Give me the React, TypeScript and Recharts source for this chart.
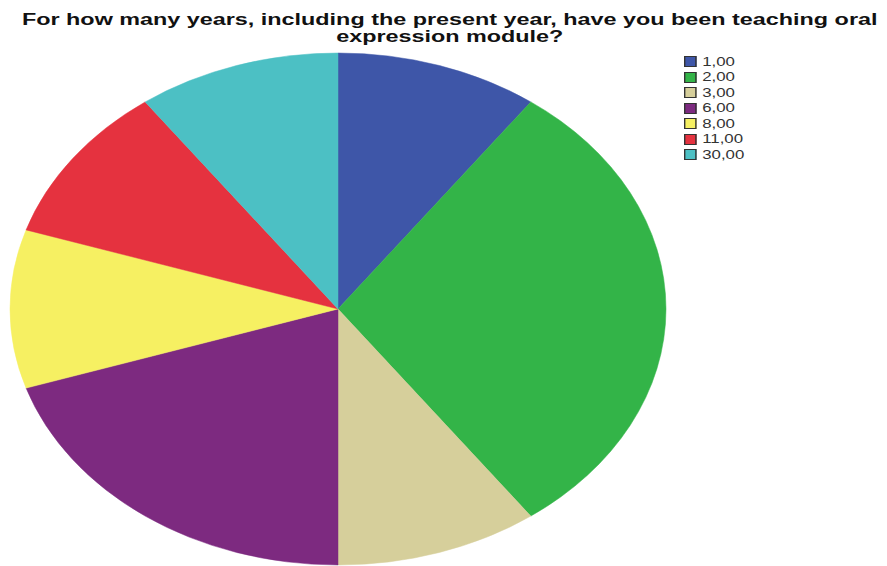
import { PieChart, Pie, Cell, Legend } from "recharts";
import type { CSSProperties } from "react";

const categories = ["1,00", "2,00", "3,00", "6,00", "8,00", "11,00", "30,00"];
const counts = [1, 3, 1, 2, 1, 1, 1];
const COLORS = ["#3e56a8", "#33b448", "#d6cf9b", "#7d2a80", "#f6f062", "#e5323f", "#4cc0c4"];
const TITLE = [
  "For how many years, including the present year, have you been teaching oral",
  "expression module?",
];

const data = categories.map((name, i) => ({ name, value: counts[i] }));

const RX = 328;
const RY = 256;

// recharts only does circles, so the sector path is drawn as an ellipse
function EllipseSector(props: any) {
  const { cx, cy, startAngle, endAngle, fill } = props;
  const rad = Math.PI / 180;
  const pt = (a: number) => [cx + RX * Math.cos(a * rad), cy - RY * Math.sin(a * rad)];
  const [x1, y1] = pt(startAngle);
  const [x2, y2] = pt(endAngle);
  const span = Math.abs(endAngle - startAngle);
  const large = span > 180 ? 1 : 0;
  const sweep = endAngle < startAngle ? 1 : 0;
  const d = `M${cx},${cy} L${x1},${y1} A${RX},${RY} 0 ${large} ${sweep} ${x2},${y2} Z`;
  return <path d={d} fill={fill} stroke={fill} strokeWidth={0.5} />;
}

function LegendBox() {
  return (
    <div style={legendStyle}>
      {categories.map((c, i) => (
        <div key={c} style={{ display: "flex", alignItems: "center", height: 15.5 }}>
          <span
            style={{
              display: "inline-block",
              width: 7,
              height: 9,
              background: COLORS[i],
              border: "1px solid #333",
              marginRight: 4,
            }}
          />
          {c}
        </div>
      ))}
    </div>
  );
}

export default function App() {
  return (
    <div style={wrap}>
      <div style={titleStyle}>
        {TITLE.map((t) => (
          <div key={t}>{t}</div>
        ))}
      </div>
      <PieChart width={887} height={566} margin={{ top: 0, right: 0, bottom: 0, left: 0 }}>
        <Pie
          data={data}
          dataKey="value"
          nameKey="name"
          cx={338}
          cy={309}
          outerRadius={RX}
          startAngle={90}
          endAngle={-270}
          shape={EllipseSector}
          isAnimationActive={false}
        >
          {data.map((_, i) => (
            <Cell key={i} fill={COLORS[i]} />
          ))}
        </Pie>
        <Legend
          layout="vertical"
          align="right"
          verticalAlign="top"
          content={LegendBox}
          wrapperStyle={{ left: 684, top: 54, width: 80 }}
        />
      </PieChart>
    </div>
  );
}

const wrap: CSSProperties = {
  position: "absolute",
  left: 0,
  top: 0,
  width: 887,
  height: 566,
  background: "#fff",
  overflow: "hidden",
};

const titleStyle: CSSProperties = {
  position: "absolute",
  left: 6,
  top: 11,
  width: 887,
  textAlign: "center",
  fontFamily: "Liberation Sans, Arial",
  fontWeight: 700,
  fontSize: 16,
  lineHeight: "17px",
  color: "#111",
  transform: "scaleX(1.46)",
  transformOrigin: "443px 0",
  zIndex: 2,
};

const legendStyle: CSSProperties = {
  fontFamily: "Liberation Sans, Arial",
  fontSize: 12,
  color: "#333",
  transform: "scaleX(1.4)",
  transformOrigin: "0 0",
};
